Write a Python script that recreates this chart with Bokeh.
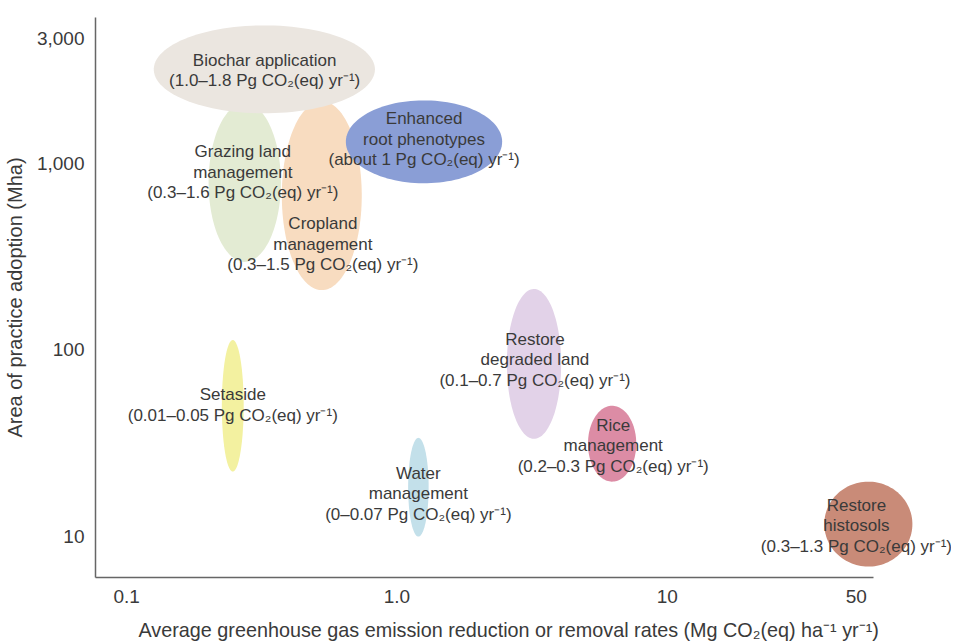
import numpy as np
from bokeh.plotting import figure
from bokeh.models import ColumnDataSource, LabelSet, FixedTicker, Range1d, Title
from bokeh.core.properties import value
from bokeh.embed import file_html
from bokeh.resources import INLINE

# ---- data ----
practices = ["Grazing land management", "Cropland management", "Biochar application",
             "Enhanced root phenotypes", "Setaside", "Water management",
             "Restore degraded land", "Rice management", "Restore histosols"]
# extent of each ellipse: rate (Mg CO2(eq)/ha/yr) and area (Mha)
rate_lo = [0.201, 0.375, 0.126, 0.647, 0.225, 1.10, 2.55, 5.09, 38.1]
rate_hi = [0.372, 0.741, 0.829, 2.45, 0.271, 1.31, 4.05, 7.68, 80.7]
area_lo = [296, 209, 1850, 781, 22.3, 10.0, 33.4, 19.7, 6.91]
area_hi = [2100, 2150, 5470, 2170, 113, 33.8, 212, 50.2, 19.7]
colors = ["#e3ebd3", "#f8dcc0", "#ebe6e0", "#8a9ed6", "#f3f1a0", "#c3e0ea",
          "#e2d2e8", "#dc8ca5", "#c98b78"]

label_texts = [
    "Grazing land\nmanagement\n(0.3–1.6 Pg CO₂(eq) yr⁻¹)",
    "Cropland\nmanagement\n(0.3–1.5 Pg CO₂(eq) yr⁻¹)",
    "Biochar application\n(1.0–1.8 Pg CO₂(eq) yr⁻¹)",
    "Enhanced\nroot phenotypes\n(about 1 Pg CO₂(eq) yr⁻¹)",
    "Setaside\n(0.01–0.05 Pg CO₂(eq) yr⁻¹)",
    "Water\nmanagement\n(0–0.07 Pg CO₂(eq) yr⁻¹)",
    "Restore\ndegraded land\n(0.1–0.7 Pg CO₂(eq) yr⁻¹)",
    "Rice\nmanagement\n(0.2–0.3 Pg CO₂(eq) yr⁻¹)",
    "Restore\nhistosols\n(0.3–1.3 Pg CO₂(eq) yr⁻¹)",
]
label_x = [0.269, 0.532, 0.324, 1.26, 0.247, 1.20, 3.24, 6.31, 50.1]
label_y = [895, 369, 3140, 1343, 50.8, 17.0, 88.4, 30.7, 11.45]

x_ticks = [0.1, 1, 10, 50]
x_tick_labels = ["0.1", "1.0", "10", "50"]
y_ticks = [10, 100, 1000, 4656]
y_tick_labels = ["10", "100", "1,000", "3,000"]

x_title = "Average greenhouse gas emission reduction or removal rates (Mg CO₂(eq) ha⁻¹ yr⁻¹)"
y_title = "Area of practice adoption (Mha)"

x_view_min, x_view_max = 0.0767, 112.6
x_axis_min, x_axis_max = 0.0767, 58
y_min, y_max = 6.04, 6030

# ---- build ellipses in log space ----
t = np.linspace(0, 2 * np.pi, 120)
xs, ys = [], []
for xl, xh, yl, yh in zip(rate_lo, rate_hi, area_lo, area_hi):
    cx = (np.log10(xl) + np.log10(xh)) / 2
    rx = (np.log10(xh) - np.log10(xl)) / 2
    cy = (np.log10(yl) + np.log10(yh)) / 2
    ry = (np.log10(yh) - np.log10(yl)) / 2
    xs.append(list(10 ** (cx + rx * np.cos(t))))
    ys.append(list(10 ** (cy + ry * np.sin(t))))

# one label entry per text line, stacked around the block centre
LINE_H = 20.5
lx, ly, ltext, loff = [], [], [], []
for x, y, txt in zip(label_x, label_y, label_texts):
    lines = txt.split("\n")
    n = len(lines)
    for i, line in enumerate(lines):
        lx.append(x)
        ly.append(y)
        ltext.append(line)
        loff.append(((n - 1) / 2 - i) * LINE_H)

FONT = "Liberation Sans"
TXT = "#3a3a3a"

p = figure(x_axis_type="log", y_axis_type="log",
           x_range=Range1d(x_view_min, x_view_max), y_range=Range1d(y_min, y_max),
           width=951, height=651,
           min_border_left=89, min_border_right=0, min_border_top=17, min_border_bottom=30,
           output_backend="svg", toolbar_location=None)

p.patches(xs=xs, ys=ys, fill_color=colors, line_color=None)

src = ColumnDataSource(dict(x=lx, y=ly, text=ltext, yo=loff))
labels = LabelSet(x="x", y="y", text="text", y_offset="yo", source=src,
                  text_align="center", text_baseline="middle",
                  text_font=value(FONT), text_font_size=value("17px"),
                  text_color=TXT)
p.add_layout(labels)

p.grid.visible = False
p.outline_line_color = None
p.background_fill_color = "white"
p.border_fill_color = "white"

for ax in (p.xaxis[0], p.yaxis[0]):
    ax.axis_line_color = "#666666"
    ax.axis_line_width = 1.5
    ax.major_tick_line_color = None
    ax.minor_tick_line_color = None
    ax.major_label_text_font = FONT
    ax.major_label_text_font_size = "19px"
    ax.major_label_text_color = TXT
    ax.axis_label_text_font = FONT
    ax.axis_label_text_font_size = "20px"
    ax.axis_label_text_font_style = "normal"
    ax.axis_label_text_color = TXT

p.xaxis.ticker = FixedTicker(ticks=x_ticks)
p.xaxis.major_label_overrides = {v: s for v, s in zip(x_ticks, x_tick_labels)}
p.xaxis.bounds = (x_axis_min, x_axis_max)
p.xaxis.major_label_standoff = 6

p.add_layout(Title(text=x_title, align="left", offset=43, standoff=22,
                   text_font=FONT, text_font_size="19.8px", text_font_style="normal",
                   text_color=TXT), "below")

p.yaxis.ticker = FixedTicker(ticks=y_ticks)
p.yaxis.major_label_overrides = {v: s for v, s in zip(y_ticks, y_tick_labels)}
p.yaxis.major_label_standoff = 5
p.yaxis.axis_label = y_title
p.yaxis.axis_label_standoff = 8

open("out.html", "w").write(file_html(p, INLINE))
